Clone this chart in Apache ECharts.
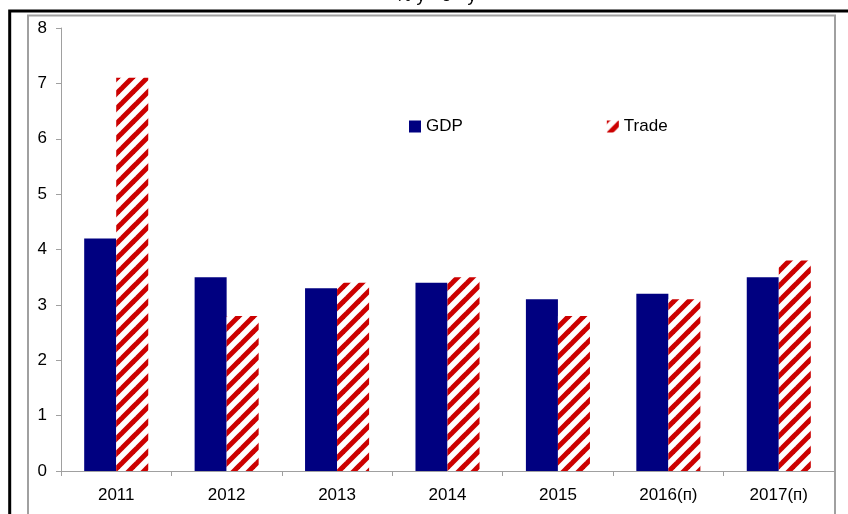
<!DOCTYPE html>
<html>
<head>
<meta charset="utf-8">
<script src="https://cdn.jsdelivr.net/npm/echarts@6/dist/echarts.min.js"></script>
<style>
  html, body { margin: 0; padding: 0; background: #fff; }
  #chart { width: 848px; height: 514px; }
</style>
</head>
<body>
<div id="chart"></div>
<script>
// Growth rates, % year over year
const years = ['2011', '2012', '2013', '2014', '2015', '2016(п)', '2017(п)'];
const gdp = [4.2, 3.5, 3.3, 3.4, 3.1, 3.2, 3.5];
const trade = [7.1, 2.8, 3.4, 3.5, 2.8, 3.1, 3.8];
const yTicks = [0, 1, 2, 3, 4, 5, 6, 7, 8];

const FONT = 'Liberation Sans, Arial, sans-serif';
const NAVY = '#000080';
const RED = '#cc0000';

// Diagonal red/white hatch tile for the Trade bars
function hatchTile() {
  const s = 15;
  const c = document.createElement('canvas');
  c.width = s; c.height = s;
  const g = c.getContext('2d');
  g.fillStyle = '#ffffff';
  g.fillRect(0, 0, s, s);
  g.strokeStyle = RED;
  g.lineWidth = 5;
  g.lineCap = 'square';
  [0, s, 2 * s].forEach((k) => {
    g.beginPath();
    g.moveTo(-s, k + s);
    g.lineTo(k + s, -s);
    g.stroke();
  });
  return c;
}

const chart = echarts.init(document.getElementById('chart'), null, { renderer: 'canvas' });

chart.setOption({
  animation: false,
  backgroundColor: '#ffffff',
  textStyle: { fontFamily: FONT },
  grid: { left: 61, right: 14, top: 28, bottom: 43, containLabel: false },
  legend: {
    left: 409, top: 118, padding: 0,
    itemWidth: 12, itemHeight: 12, itemGap: 144,
    textStyle: { fontFamily: FONT, fontSize: 17, color: '#000' },
    data: [
      { name: 'GDP', icon: 'rect' },
      { name: 'Trade', icon: 'rect' }
    ]
  },
  xAxis: {
    type: 'category',
    data: years,
    axisLine: { lineStyle: { color: '#a0a0a0', width: 1 } },
    axisTick: { show: true, length: 5, lineStyle: { color: '#a0a0a0' } },
    axisLabel: { color: '#000', fontSize: 17, fontFamily: FONT, margin: 16 }
  },
  yAxis: {
    type: 'value',
    min: yTicks[0], max: yTicks[yTicks.length - 1], interval: 1,
    splitLine: { show: false },
    axisLine: { show: true, lineStyle: { color: '#a0a0a0', width: 1 } },
    axisTick: { show: true, length: 5, lineStyle: { color: '#a0a0a0' } },
    axisLabel: { color: '#000', fontSize: 17, fontFamily: FONT, margin: 14 }
  },
  series: [
    {
      name: 'GDP', type: 'bar', data: gdp,
      barGap: '0%', barCategoryGap: '42%',
      itemStyle: { color: NAVY }
    },
    {
      name: 'Trade', type: 'bar', data: trade,
      barGap: '0%', barCategoryGap: '42%',
      itemStyle: { color: { image: hatchTile(), repeat: 'repeat' } }
    }
  ],
  graphic: [
    {
      type: 'text', x: 436, y: -13, z: 10,
      style: {
        text: '% y - o - y', fill: '#000',
        font: '18px ' + FONT, textAlign: 'center', textVerticalAlign: 'top'
      }
    },
    // inner gray frame
    {
      type: 'polyline', z: 20,
      shape: { points: [[28, 514], [28, 15.5], [835, 15.5], [835, 514]] },
      style: { stroke: '#a0a0a0', lineWidth: 2, fill: null }
    },
    // outer black frame
    {
      type: 'polyline', z: 21,
      shape: { points: [[9.7, 514], [9.7, 11], [848, 11]] },
      style: { stroke: '#000', lineWidth: 3, fill: null }
    }
  ]
});
</script>
</body>
</html>
